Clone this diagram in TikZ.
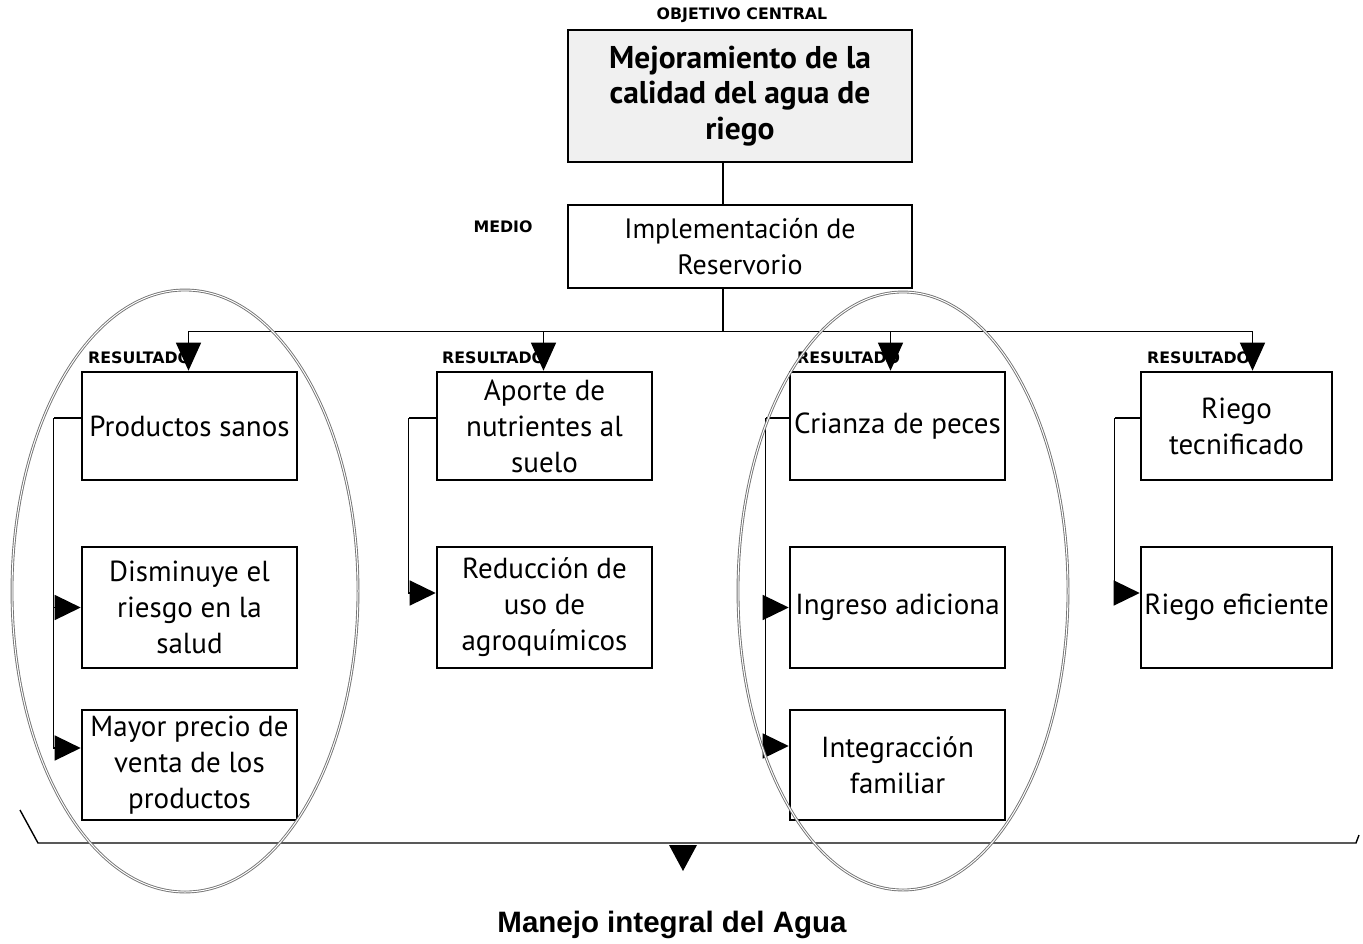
\documentclass[tikz,border=0pt]{standalone}
\usepackage{fontspec}
\setmainfont{PT Sans}
\newfontfamily\lblfont{DejaVu Sans}
\newfontfamily\arialfont{Liberation Sans}
\usetikzlibrary{arrows.meta}
\begin{document}
\begin{tikzpicture}[x=1pt,y=-1pt,
  box/.style={draw, line width=2.6pt, inner sep=0pt, align=center, font=\fontsize{29}{36}\selectfont},
  lbl/.style={font=\lblfont\bfseries\fontsize{15.8}{18}\selectfont, inner sep=0pt},
  conn/.style={line width=1.4pt},
  arr/.style={conn, -{Triangle[width=25pt,length=28pt]}},
  sarr/.style={conn, -{Triangle[width=25pt,length=26pt]}},
  oval/.style={draw=black!55, line width=0.9pt, double=white, double distance=1pt},
]
\useasboundingbox (0,0) rectangle (1363,943);

% top
\node[lbl] (objlbl) at (742,15) {OBJETIVO CENTRAL};
\node[box, fill=gray!12, minimum width=344, minimum height=132,
      font=\bfseries\fontsize{31.5}{35.5}\selectfont] (obj) at (740,96)
      {Mejoramiento de la\\calidad del agua de\\riego};
\node[lbl] (mediolbl) at (503,227) {MEDIO};
\node[box, minimum width=344, minimum height=83, font=\fontsize{28}{36}\selectfont] (medio) at (740,246.5)
      {Implementación de\\Reservorio};
\draw[conn] ([xshift=-17pt]obj.south) -- ([xshift=-17pt]medio.north);
\draw[conn] ([xshift=-17pt]medio.south) -- ++(0,42) coordinate (bus);

% result labels
\node[lbl, anchor=west] (l1) at (88,358) {RESULTADO};
\node[lbl, anchor=west] (l2) at (442,358) {RESULTADO};
\node[lbl, anchor=west] (l3) at (797,358) {RESULTADO};
\node[lbl, anchor=west] (l4) at (1147,358) {RESULTADO};

% column 1
\node[box, minimum width=215, minimum height=108] (r1a) at (189.5,426) {Productos sanos};
\node[box, minimum width=215, minimum height=121] (r1b) at (189.5,607.5) {Disminuye el\\riesgo en la\\salud};
\node[box, minimum width=215, minimum height=110] (r1c) at (189.5,765) {Mayor precio de\\venta de los\\productos};
% column 2
\node[box, minimum width=215, minimum height=108] (r2a) at (544.5,426) {Aporte de\\nutrientes al\\suelo};
\node[box, minimum width=215, minimum height=121] (r2b) at (544.5,607.5) {Reducción de\\uso de\\agroquímicos};
% column 3
\node[box, minimum width=215, minimum height=108] (r3a) at (897.5,426) {Crianza de peces};
\node[box, minimum width=215, minimum height=121] (r3b) at (897.5,607.5) {Ingreso adiciona};
\node[box, minimum width=215, minimum height=110] (r3c) at (897.5,765) {Integracción\\familiar};
% column 4
\node[box, minimum width=191, minimum height=108] (r4a) at (1236.5,426) {Riego\\tecnificado};
\node[box, minimum width=191, minimum height=121] (r4b) at (1236.5,607.5) {Riego eficiente};

% bus arrows
\draw[arr] (bus) -| ([xshift=-1pt]r1a.north);
\draw[arr] (bus) -| ([xshift=-1pt]r2a.north);
\draw[arr] (bus) -| ([xshift=-7pt]r3a.north);
\draw[arr] (bus) -| ([xshift=16pt]r4a.north);

% brackets
\draw[conn] ([yshift=8pt]r1a.west) -- ++(-27,0) coordinate (b1);
\draw[sarr] (b1) |- (r1b.west);
\draw[sarr] (b1) |- ([yshift=17pt]r1c.west);
\draw[conn] ([yshift=8pt]r2a.west) -- ++(-27,0) coordinate (b2);
\draw[sarr] (b2) |- ([yshift=14.5pt]r2b.west);
\draw[conn] ([yshift=8pt]r3a.west) -- ++(-23,0) coordinate (b3);
\draw[sarr] (b3) |- (r3b.west);
\draw[sarr] (b3) |- ([yshift=19pt]r3c.west);
\draw[conn] ([yshift=8pt]r4a.west) -- ++(-25,0) coordinate (b4);
\draw[sarr] (b4) |- ([yshift=14.5pt]r4b.west);

% bottom line and arrow
\coordinate (bl0) at (20,810);
\coordinate (bl1) at (38,843);
\coordinate (br1) at (1356,843);
\coordinate (br0) at (1359,835);
\draw[conn] (bl0) -- (bl1) -- (br1) -- (br0);
\fill (669,845) -- (697,845) -- (683,871) -- cycle;

\node[font=\arialfont\bfseries\fontsize{29.5}{34}\selectfont] (manejo) at (672,925) {Manejo integral del Agua};

% ovals
\draw[oval] (185,591) ellipse [x radius=173pt, y radius=301pt];
\draw[oval] (903,591) ellipse [x radius=165pt, y radius=299pt];
\end{tikzpicture}
\end{document}
